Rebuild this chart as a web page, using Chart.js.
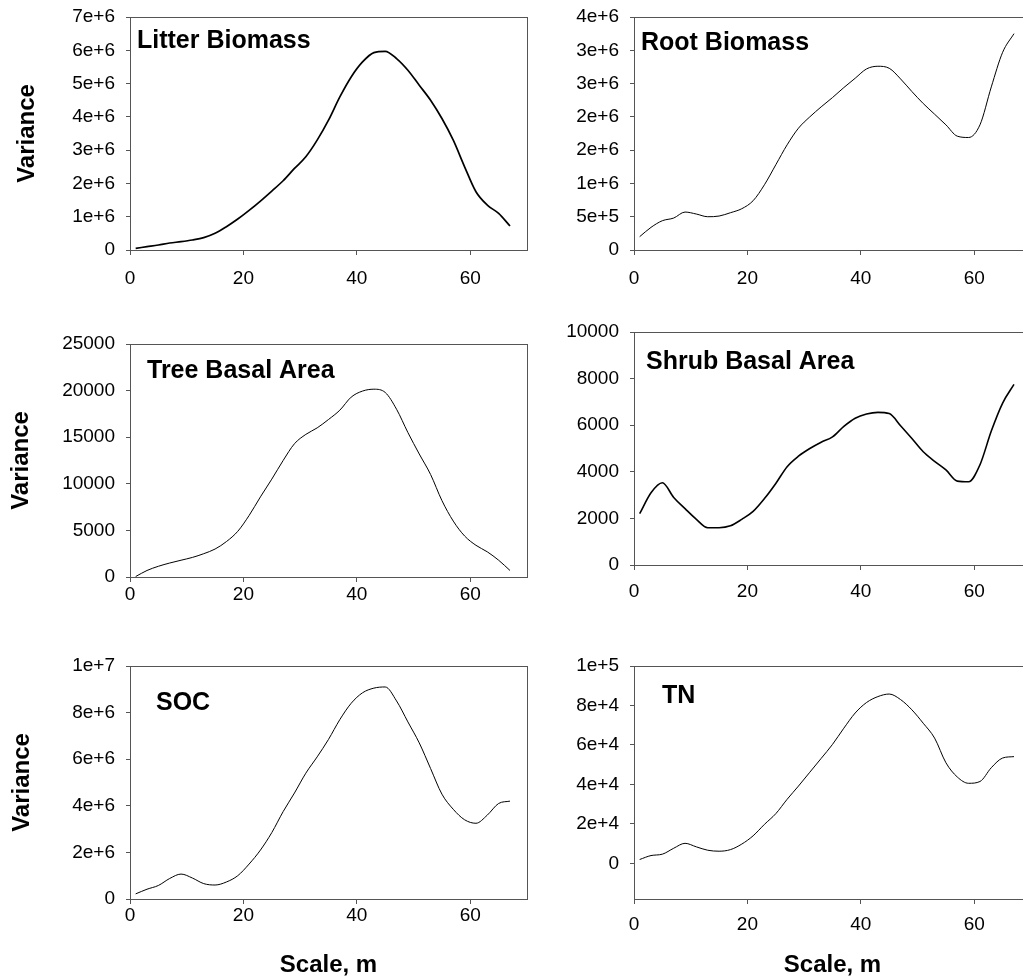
<!DOCTYPE html>
<html>
<head>
<meta charset="utf-8">
<title>Variance by scale</title>
<script src="https://cdn.jsdelivr.net/npm/chart.js@4.4.1/dist/chart.umd.min.js"></script>
<style>
html, body { margin: 0; padding: 0; background: #fff; overflow: hidden; }
body { width: 1023px; height: 980px; position: relative; }
canvas { position: absolute; }
</style>
</head>
<body>
<canvas id="litter" width="539" height="338" style="left:0px;top:-7px"></canvas>
<canvas id="root" width="539" height="338" style="left:504px;top:-7px"></canvas>
<canvas id="tree" width="539" height="338" style="left:0px;top:320px"></canvas>
<canvas id="shrub" width="539" height="338" style="left:504px;top:308px"></canvas>
<canvas id="soc" width="539" height="338" style="left:0px;top:642px"></canvas>
<canvas id="tn" width="539" height="338" style="left:504px;top:642px"></canvas>
<script>
// lag distance (m)
var lags = [1, 3, 5, 7, 9, 11, 13, 15, 17, 19, 21, 23, 25, 27, 29, 31, 33,
            35, 37, 39, 41, 43, 45, 47, 49, 51, 53, 55, 57, 59, 61, 63, 65, 67];
var xTicks = [0, 20, 40, 60];

var litterBiomass = [0.05e6, 0.1e6, 0.15e6, 0.21e6, 0.25e6, 0.3e6, 0.37e6, 0.5e6, 0.7e6, 0.93e6,
                     1.19e6, 1.47e6, 1.77e6, 2.08e6, 2.45e6, 2.8e6, 3.3e6, 3.9e6, 4.6e6, 5.2e6,
                     5.65e6, 5.93e6, 5.97e6, 5.75e6, 5.4e6, 4.95e6, 4.5e6, 3.95e6, 3.3e6, 2.5e6,
                     1.75e6, 1.35e6, 1.1e6, 0.72e6];
var litterTicks = [0, 1e6, 2e6, 3e6, 4e6, 5e6, 6e6, 7e6];

var rootBiomass = [0.2e6, 0.34e6, 0.44e6, 0.48e6, 0.57e6, 0.54e6, 0.5e6, 0.51e6, 0.56e6, 0.62e6,
                   0.74e6, 0.98e6, 1.28e6, 1.58e6, 1.83e6, 2.0e6, 2.15e6, 2.29e6, 2.44e6, 2.58e6,
                   2.72e6, 2.76e6, 2.73e6, 2.57e6, 2.38e6, 2.2e6, 2.04e6, 1.88e6, 1.71e6, 1.69e6,
                   1.88e6, 2.45e6, 2.97e6, 3.25e6];
var rootTicks = [0, 5e5, 1e6, 1.5e6, 2e6, 2.5e6, 3e6, 3.5e6];

var treeBasalArea = [50, 700, 1150, 1500, 1800, 2100, 2500, 3000, 3800, 4900,
                     6600, 8600, 10500, 12500, 14300, 15300, 16000, 16900, 17900, 19300,
                     19950, 20150, 19800, 18000, 15500, 13200, 11000, 8200, 6000, 4400,
                     3400, 2700, 1800, 700];
var treeTicks = [0, 5000, 10000, 15000, 20000, 25000];

var shrubBasalArea = [2200, 3100, 3530, 2900, 2420, 1960, 1600, 1600, 1680, 1960,
                      2300, 2850, 3500, 4220, 4670, 5000, 5270, 5500, 5950, 6300,
                      6480, 6550, 6500, 5980, 5430, 4860, 4450, 4080, 3600, 3570,
                      4300, 5750, 6950, 7750];
var shrubTicks = [0, 2000, 4000, 6000, 8000, 10000];

var soc = [0.22e6, 0.42e6, 0.58e6, 0.88e6, 1.07e6, 0.9e6, 0.66e6, 0.6e6, 0.73e6, 1.0e6,
           1.5e6, 2.1e6, 2.85e6, 3.75e6, 4.55e6, 5.4e6, 6.1e6, 6.85e6, 7.7e6, 8.4e6,
           8.85e6, 9.05e6, 9.1e6, 8.5e6, 7.6e6, 6.7e6, 5.6e6, 4.5e6, 3.85e6, 3.4e6,
           3.25e6, 3.6e6, 4.1e6, 4.2e6];
var socTicks = [0, 2e6, 4e6, 6e6, 8e6, 1e7];

var tn = [2000, 4000, 4700, 7700, 10200, 8400, 6700, 6200, 7000, 9800,
          14000, 19800, 25200, 32500, 39200, 46200, 53200, 60300, 68500, 76200,
          81500, 84500, 85800, 83000, 77800, 71000, 63500, 51000, 43800, 40600,
          41500, 48500, 53400, 54100];
var tnTicks = [0, 2e4, 4e4, 6e4, 8e4, 1e5];

Chart.defaults.font.family = '"Liberation Sans", Arial, Helvetica, sans-serif';
Chart.defaults.font.size = 19;
Chart.defaults.color = '#000';

function sci(v) { return v === 0 ? '0' : v.toExponential(0); }
function plain(v) { return String(v); }

// box round the plot area
var frameBox = {
    id: 'frameBox',
    beforeDatasetsDraw: function (chart) {
        var a = chart.chartArea;
        var ctx = chart.ctx;
        ctx.save();
        ctx.strokeStyle = '#555';
        ctx.lineWidth = 1;
        ctx.strokeRect(Math.round(a.left) + 0.5, Math.round(a.top) + 0.5,
                       Math.round(a.right - a.left), Math.round(a.bottom - a.top));
        ctx.restore();
    }
};

// bold name written inside the plot, top left
var panelLabel = {
    id: 'panelLabel',
    afterDraw: function (chart, args, opts) {
        if (!opts.text) return;
        var a = chart.chartArea;
        var ctx = chart.ctx;
        ctx.save();
        ctx.font = 'bold 25px "Liberation Sans", Arial, sans-serif';
        ctx.fillStyle = '#000';
        ctx.textAlign = 'left';
        ctx.textBaseline = 'middle';
        ctx.fillText(opts.text, a.left + opts.dx, a.top + opts.dy);
        ctx.restore();
    }
};

function makePanel(id, p) {
    var points = lags.map(function (x, i) { return { x: x, y: p.values[i] }; });
    return new Chart(document.getElementById(id), {
        type: 'line',
        data: {
            datasets: [{
                data: points,
                borderColor: '#000',
                borderWidth: p.lineWidth,
                pointRadius: 0,
                fill: false,
                cubicInterpolationMode: 'monotone'
            }]
        },
        options: {
            responsive: false,
            animation: false,
            events: [],
            layout: { padding: { left: 0, top: 24, right: 12, bottom: 0 } },
            scales: {
                x: {
                    type: 'linear',
                    min: 0,
                    max: 70,
                    afterBuildTicks: function (s) { s.ticks = xTicks.map(function (v) { return { value: v }; }); },
                    afterFit: function (s) { s.height = 81; },
                    grid: { drawOnChartArea: false, tickLength: 5, color: '#555' },
                    border: { display: false },
                    ticks: { padding: p.xPad, maxRotation: 0, autoSkip: false, callback: plain },
                    title: {
                        display: p.xTitle,
                        text: 'Scale, m',
                        font: { size: 24, weight: 'bold' },
                        padding: { top: 0, bottom: 0 }
                    }
                },
                y: {
                    type: 'linear',
                    min: p.min,
                    max: p.max,
                    afterBuildTicks: function (s) { s.ticks = p.ticks.map(function (v) { return { value: v }; }); },
                    afterFit: function (s) { s.width = 130; },
                    grid: { drawOnChartArea: false, tickLength: 4, color: '#555' },
                    border: { display: false },
                    ticks: { padding: 11, callback: p.fmt },
                    title: {
                        display: p.yTitle !== null,
                        text: 'Variance',
                        font: { size: 24, weight: 'bold' },
                        padding: { top: p.yTitle || 0, bottom: 0 }
                    }
                }
            },
            plugins: {
                legend: { display: false },
                tooltip: { enabled: false },
                panelLabel: { text: p.label, dx: p.dx, dy: p.dy }
            }
        },
        plugins: [frameBox, panelLabel]
    });
}

makePanel('litter', { values: litterBiomass, ticks: litterTicks, min: 0, max: 7e6, fmt: sci,
    label: 'Litter Biomass', dx: 7, dy: 24, lineWidth: 1.7, xPad: 12, xTitle: false, yTitle: 12.6 });
makePanel('root', { values: rootBiomass, ticks: rootTicks, min: 0, max: 3.5e6, fmt: sci,
    label: 'Root Biomass', dx: 7, dy: 26, lineWidth: 1, xPad: 12, xTitle: false, yTitle: null });
makePanel('tree', { values: treeBasalArea, ticks: treeTicks, min: 0, max: 25000, fmt: plain,
    label: 'Tree Basal Area', dx: 17, dy: 27, lineWidth: 1, xPad: 1, xTitle: false, yTitle: 6.6 });
makePanel('shrub', { values: shrubBasalArea, ticks: shrubTicks, min: 0, max: 10000, fmt: plain,
    label: 'Shrub Basal Area', dx: 12, dy: 30, lineWidth: 1.6, xPad: 10, xTitle: false, yTitle: null });
makePanel('soc', { values: soc, ticks: socTicks, min: 0, max: 1e7, fmt: sci,
    label: 'SOC', dx: 26, dy: 37, lineWidth: 1, xPad: 0, xTitle: true, yTitle: 7.6 });
makePanel('tn', { values: tn, ticks: tnTicks, min: -18000, max: 1e5, fmt: sci,
    label: 'TN', dx: 28, dy: 30, lineWidth: 1, xPad: 9, xTitle: true, yTitle: null });
</script>
</body>
</html>
